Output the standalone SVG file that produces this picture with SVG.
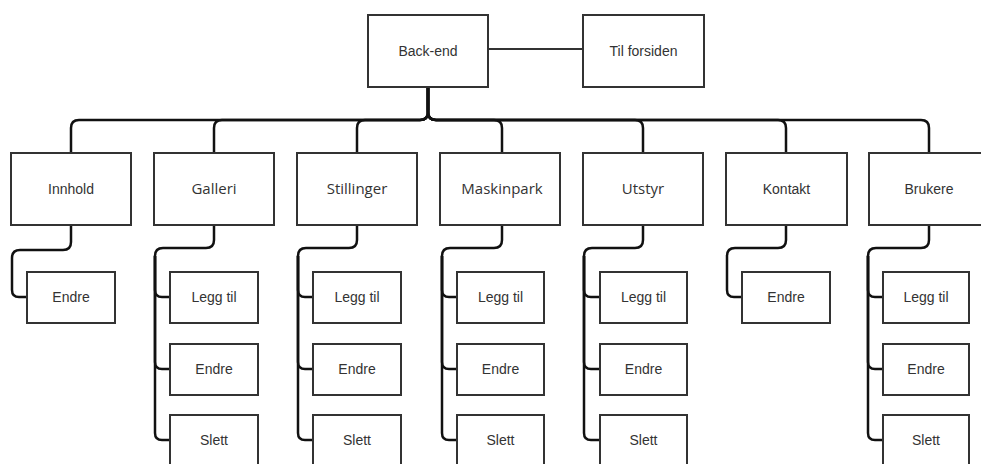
<svg xmlns="http://www.w3.org/2000/svg" width="981" height="464" viewBox="0 0 981 464">
  <style>
    .box { fill: #ffffff; stroke: #333333; stroke-width: 2; }
    .lbl { font-family: "Liberation Sans", Arial, sans-serif; font-size: 14px; fill: #333333; text-anchor: middle; }
    .lbl2 { font-family: "Open Sans", "Liberation Sans", sans-serif; font-size: 15px; fill: #333333; text-anchor: middle; }
    .edge { fill: none; stroke: #111111; stroke-width: 2.5; stroke-linejoin: round; }
    .link { fill: none; stroke: #333333; stroke-width: 2; }
  </style>
  <rect width="981" height="464" fill="#ffffff"/>

  <g id="connectors">
    <line class="link" x1="488" y1="49" x2="583" y2="49"/>
    <!-- Back-end to sections -->
    <path class="edge" d="M428 87 V112 Q428 120 420 120 H79 Q71 120 71 128 V153"/>
    <path class="edge" d="M428 87 V112 Q428 120 420 120 H222 Q214 120 214 128 V153"/>
    <path class="edge" d="M428 87 V112 Q428 120 420 120 H365 Q357 120 357 128 V153"/>
    <path class="edge" d="M428 87 V112 Q428 120 436 120 H494 Q502 120 502 128 V153"/>
    <path class="edge" d="M428 87 V112 Q428 120 436 120 H635 Q643 120 643 128 V153"/>
    <path class="edge" d="M428 87 V112 Q428 120 436 120 H778 Q786 120 786 128 V153"/>
    <path class="edge" d="M428 87 V112 Q428 120 436 120 H921 Q929 120 929 128 V153"/>
    <path class="edge" d="M428 87 V110" stroke-width="3.5"/>
    <!-- Innhold -->
    <path class="edge" d="M71 225 V242 Q71 250 63 250 H20 Q12 250 12 258 V290 Q12 297 19 297 H27"/>
    <!-- Galleri -->
    <path class="edge" d="M214 225 V240 Q214 248 206 248 H163 Q155 248 155 256 V290 Q155 297 162 297 H170"/>
    <path class="edge" d="M155 256 V362 Q155 369 162 369 H170"/>
    <path class="edge" d="M155 256 V433 Q155 440 162 440 H170"/>
    <!-- Stillinger -->
    <path class="edge" d="M357 225 V240 Q357 248 349 248 H306 Q298 248 298 256 V290 Q298 297 305 297 H313"/>
    <path class="edge" d="M298 256 V362 Q298 369 305 369 H313"/>
    <path class="edge" d="M298 256 V433 Q298 440 305 440 H313"/>
    <!-- Maskinpark -->
    <path class="edge" d="M502 225 V240 Q502 248 494 248 H450 Q442 248 442 256 V290 Q442 297 449 297 H457"/>
    <path class="edge" d="M442 256 V362 Q442 369 449 369 H457"/>
    <path class="edge" d="M442 256 V433 Q442 440 449 440 H457"/>
    <!-- Utstyr -->
    <path class="edge" d="M643 225 V240 Q643 248 635 248 H592 Q584 248 584 256 V290 Q584 297 591 297 H600"/>
    <path class="edge" d="M584 256 V362 Q584 369 591 369 H600"/>
    <path class="edge" d="M584 256 V433 Q584 440 591 440 H600"/>
    <!-- Kontakt -->
    <path class="edge" d="M786 225 V240 Q786 248 778 248 H735 Q727 248 727 256 V290 Q727 297 734 297 H742"/>
    <!-- Brukere -->
    <path class="edge" d="M929 225 V240 Q929 248 921 248 H876 Q868 248 868 256 V290 Q868 297 875 297 H883"/>
    <path class="edge" d="M868 256 V362 Q868 369 875 369 H883"/>
    <path class="edge" d="M868 256 V433 Q868 440 875 440 H883"/>
  </g>

  <g id="back-end"><rect class="box" x="368" y="15" width="120" height="72"/><text class="lbl" x="428" y="56">Back-end</text></g>
  <g id="til-forsiden"><rect class="box" x="583" y="15" width="121" height="72"/><text class="lbl" x="643.5" y="56">Til forsiden</text></g>

  <g id="innhold"><rect class="box" x="11" y="153" width="120" height="72"/><text class="lbl" x="71" y="194">Innhold</text></g>
  <g id="galleri"><rect class="box" x="154" y="153" width="120" height="72"/><text class="lbl2" x="214" y="194">Galleri</text></g>
  <g id="stillinger"><rect class="box" x="297" y="153" width="120" height="72"/><text class="lbl2" x="357" y="194">Stillinger</text></g>
  <g id="maskinpark"><rect class="box" x="440" y="153" width="120" height="72"/><text class="lbl2" x="502" y="194">Maskinpark</text></g>
  <g id="utstyr"><rect class="box" x="583" y="153" width="120" height="72"/><text class="lbl2" x="643" y="194">Utstyr</text></g>
  <g id="kontakt"><rect class="box" x="726" y="153" width="121" height="72"/><text class="lbl" x="786.5" y="194">Kontakt</text></g>
  <g id="brukere"><rect class="box" x="869" y="153" width="120" height="72"/><text class="lbl" x="929" y="194">Brukere</text></g>

  <g id="innhold-endre"><rect class="box" x="27" y="272" width="88" height="51"/><text class="lbl" x="71" y="302">Endre</text></g>

  <g id="galleri-legg-til"><rect class="box" x="170" y="272" width="88" height="51"/><text class="lbl" x="214" y="302">Legg til</text></g>
  <g id="galleri-endre"><rect class="box" x="170" y="344" width="88" height="51"/><text class="lbl" x="214" y="374">Endre</text></g>
  <g id="galleri-slett"><rect class="box" x="170" y="415" width="88" height="51"/><text class="lbl" x="214" y="445">Slett</text></g>

  <g id="stillinger-legg-til"><rect class="box" x="313" y="272" width="88" height="51"/><text class="lbl" x="357" y="302">Legg til</text></g>
  <g id="stillinger-endre"><rect class="box" x="313" y="344" width="88" height="51"/><text class="lbl" x="357" y="374">Endre</text></g>
  <g id="stillinger-slett"><rect class="box" x="313" y="415" width="88" height="51"/><text class="lbl" x="357" y="445">Slett</text></g>

  <g id="maskinpark-legg-til"><rect class="box" x="457" y="272" width="87" height="51"/><text class="lbl" x="500.5" y="302">Legg til</text></g>
  <g id="maskinpark-endre"><rect class="box" x="457" y="344" width="87" height="51"/><text class="lbl" x="500.5" y="374">Endre</text></g>
  <g id="maskinpark-slett"><rect class="box" x="457" y="415" width="87" height="51"/><text class="lbl" x="500.5" y="445">Slett</text></g>

  <g id="utstyr-legg-til"><rect class="box" x="600" y="272" width="87" height="51"/><text class="lbl" x="643.5" y="302">Legg til</text></g>
  <g id="utstyr-endre"><rect class="box" x="600" y="344" width="87" height="51"/><text class="lbl" x="643.5" y="374">Endre</text></g>
  <g id="utstyr-slett"><rect class="box" x="600" y="415" width="87" height="51"/><text class="lbl" x="643.5" y="445">Slett</text></g>

  <g id="kontakt-endre"><rect class="box" x="742" y="272" width="88" height="51"/><text class="lbl" x="786" y="302">Endre</text></g>

  <g id="brukere-legg-til"><rect class="box" x="883" y="272" width="86" height="51"/><text class="lbl" x="926" y="302">Legg til</text></g>
  <g id="brukere-endre"><rect class="box" x="883" y="344" width="86" height="51"/><text class="lbl" x="926" y="374">Endre</text></g>
  <g id="brukere-slett"><rect class="box" x="883" y="415" width="86" height="51"/><text class="lbl" x="926" y="445">Slett</text></g>
</svg>
